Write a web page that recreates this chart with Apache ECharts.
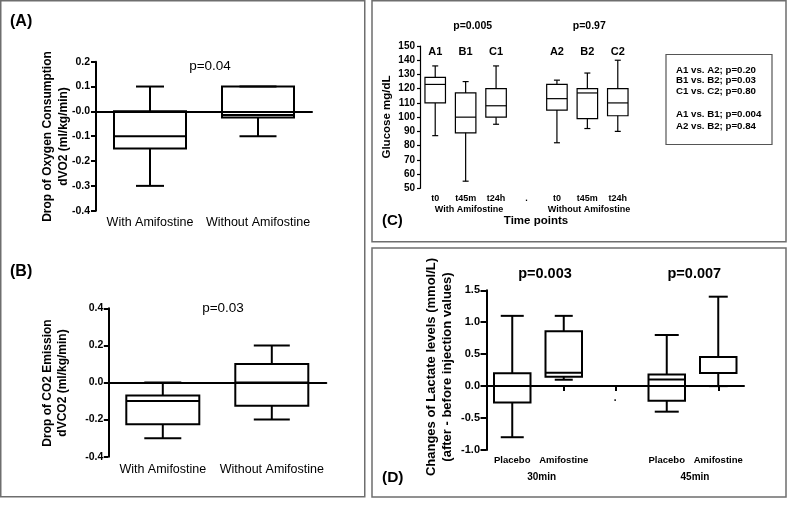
<!DOCTYPE html>
<html>
<head>
<meta charset="utf-8">
<script src="https://cdn.jsdelivr.net/npm/echarts@6/dist/echarts.min.js"></script>
<style>
html,body{margin:0;padding:0;background:#fff;}
#c{width:787px;height:511px;}
</style>
</head>
<body>
<div id="c"></div>
<script>
// ---------- DATA ----------
// Box values are [min, Q1, median, Q3, max]
// Panel A: drop of oxygen consumption
const catsAB = ['With Amifostine', 'Without Amifostine'];
const vo2WithAmifostine = [-0.3, -0.15, -0.1, 0.0, 0.1];
const vo2WithoutAmifostine = [-0.1, -0.025, -0.015, 0.1, 0.1];
const ticksA = ['-0.4', '-0.3', '-0.2', '-0.1', '-0.0', '0.1', '0.2'];

// Panel B: drop of CO2 emission
const vco2WithAmifostine = [-0.3, -0.225, -0.1, -0.07, 0.0];
const vco2WithoutAmifostine = [-0.2, -0.125, 0.0, 0.1, 0.2];
const ticksB = ['-0.4', '-0.2', '0.0', '0.2', '0.4'];

// Panel C: glucose
const catsC = ['t0', 't45m', 't24h', '.', 't0', 't45m', 't24h'];
const boxLabelsC = ['A1', 'B1', 'C1', '', 'A2', 'B2', 'C2'];
const glucoseA1 = [87, 110, 123, 128, 136];
const glucoseB1 = [55, 89, 100, 117, 125];
const glucoseC1 = [95, 100, 108, 120, 136];
const glucoseA2 = [82, 105, 113, 123, 126];
const glucoseB2 = [92, 99, 117, 120, 131];
const glucoseC2 = [90, 101, 110, 120, 140];
const ticksC = ['50', '60', '70', '80', '90', '100', '110', '120', '130', '140', '150'];
const statsLines = ['A1 vs. A2; p=0.20', 'B1 vs. B2; p=0.03', 'C1 vs. C2; p=0.80', '', 'A1 vs. B1; p=0.004', 'A2 vs. B2; p=0.84'];

// Panel D: lactate changes
const catsD = ['Placebo', 'Amifostine', '.', 'Placebo', 'Amifostine'];
const lactatePlacebo30 = [-0.8, -0.255, 0.0, 0.2, 1.1];
const lactateAmifostine30 = [0.1, 0.147, 0.21, 0.857, 1.1];
const lactatePlacebo45 = [-0.4, -0.23, 0.105, 0.18, 0.8];
const lactateAmifostine45 = [0.0, 0.204, 0.204, 0.455, 1.4];
const ticksD = ['-1.0', '-0.5', '0.0', '0.5', '1.0', '1.5'];

// ---------- BUILD ----------
const FONT = '"Liberation Sans", Arial, sans-serif';
const chart = echarts.init(document.getElementById('c'), null, {renderer: 'canvas', width: 787, height: 511});

function row(idx, arr) { return [idx].concat(arr); }
const dataA = [row(0, vo2WithAmifostine), row(1, vo2WithoutAmifostine)];
const dataB = [row(0, vco2WithAmifostine), row(1, vco2WithoutAmifostine)];
const dataC = [row(0, glucoseA1), row(1, glucoseB1), row(2, glucoseC1), row(4, glucoseA2), row(5, glucoseB2), row(6, glucoseC2)];
const dataD = [row(0, lactatePlacebo30), row(1, lactateAmifostine30), row(3, lactatePlacebo45), row(4, lactateAmifostine45)];

function makeRender(st) {
  return function (params, api) {
    const x = api.value(0);
    const lo = api.coord([x, api.value(1)]);
    const q1 = api.coord([x, api.value(2)]);
    const md = api.coord([x, api.value(3)]);
    const q3 = api.coord([x, api.value(4)]);
    const hi = api.coord([x, api.value(5)]);
    const cx = lo[0];
    const bw = st.boxWidth;
    const cw = st.capWidths[params.dataIndex % st.capWidths.length];
    const ls = {stroke: '#000', lineWidth: st.lw, fill: 'none'};
    const L = (x1, y1, x2, y2) => ({type: 'line', shape: {x1, y1, x2, y2}, style: ls});
    return {
      type: 'group',
      children: [
        L(cx, lo[1], cx, q1[1]),
        L(cx, q3[1], cx, hi[1]),
        L(cx - cw / 2, lo[1], cx + cw / 2, lo[1]),
        L(cx - cw / 2, hi[1], cx + cw / 2, hi[1]),
        {type: 'rect', shape: {x: cx - bw / 2, y: q3[1], width: bw, height: q1[1] - q3[1]}, style: {stroke: '#000', lineWidth: st.lw, fill: 'none'}},
        L(cx - bw / 2, md[1], cx + bw / 2, md[1])
      ]
    };
  };
}

// separator mark drawn just under the zero line of panel D, at the '.' category
function renderSeparator(params, api) {
  const p = api.coord([api.value(0), api.value(1)]);
  return {type: 'text', x: p[0], y: p[1] + 12,
          style: {text: '.', fill: '#000', font: 'bold 10px ' + FONT, align: 'center', verticalAlign: 'middle',
                  textAlign: 'center', textVerticalAlign: 'middle'}};
}

function tickFmt(ticks, min, interval) {
  return v => ticks[Math.round((v - min) / interval)] || '';
}

function yAx(grid, min, max, interval, ticks, fs, lw, tickLen, margin) {
  return {
    type: 'value', gridIndex: grid, min, max, interval,
    splitLine: {show: false},
    axisLine: {show: true, lineStyle: {color: '#000', width: lw}},
    axisTick: {show: true, length: tickLen, lineStyle: {color: '#000', width: lw}},
    axisLabel: {color: '#000', fontFamily: FONT, fontWeight: 'bold', fontSize: fs, margin, formatter: tickFmt(ticks, min, interval)}
  };
}

const grids = [
  {left: 96, top: 61.7, width: 216, height: 149},
  {left: 108.3, top: 308.3, width: 218, height: 148.4},
  {left: 420, top: 46, width: 213, height: 142.3},
  {left: 486.5, top: 290.3, width: 257.5, height: 159.7}
];

const noLine = {show: false, onZero: false};
const xAxes = [
  // A zero line
  {type: 'category', gridIndex: 0, data: catsAB, position: 'bottom',
   axisLine: {show: true, onZero: true, lineStyle: {color: '#000', width: 2}}, axisTick: {show: false}, axisLabel: {show: false}},
  // A labels
  {type: 'category', gridIndex: 0, data: catsAB, position: 'bottom', axisLine: noLine, axisTick: {show: false},
   axisLabel: {color: '#000', fontFamily: FONT, fontSize: 12.5, margin: 5.5, interval: 0}},
  // B zero line
  {type: 'category', gridIndex: 1, data: catsAB, position: 'bottom',
   axisLine: {show: true, onZero: true, lineStyle: {color: '#000', width: 2}}, axisTick: {show: false}, axisLabel: {show: false}},
  // B labels
  {type: 'category', gridIndex: 1, data: catsAB, position: 'bottom', axisLine: noLine, axisTick: {show: false},
   axisLabel: {color: '#000', fontFamily: FONT, fontSize: 12.5, margin: 6.5, interval: 0}},
  // C bottom labels
  {type: 'category', gridIndex: 2, data: catsC, position: 'bottom', axisLine: noLine, axisTick: {show: false},
   axisLabel: {color: '#000', fontFamily: FONT, fontWeight: 'bold', fontSize: 9, margin: 6, interval: 0}},
  // C top box labels
  {type: 'category', gridIndex: 2, data: boxLabelsC, position: 'top', axisLine: noLine, axisTick: {show: false},
   axisLabel: {inside: true, color: '#000', fontFamily: FONT, fontWeight: 'bold', fontSize: 11, margin: 0.5, interval: 0}},
  // D zero line
  {type: 'category', gridIndex: 3, data: catsD, position: 'bottom',
   axisLine: {show: true, onZero: true, lineStyle: {color: '#000', width: 2}},
   axisTick: {show: true, alignWithLabel: true, length: 5, lineStyle: {color: '#000', width: 2},
              interval: (i, v) => v !== 'Placebo'},
   axisLabel: {show: false}},
  // D labels
  {type: 'category', gridIndex: 3, data: catsD, position: 'bottom', axisLine: noLine, axisTick: {show: false},
   axisLabel: {color: '#000', fontFamily: FONT, fontWeight: 'bold', fontSize: 9.5, margin: 5, interval: 0,
               formatter: v => (v === '.' ? '' : v)}}
];

const yAxes = [
  yAx(0, -0.4, 0.2, 0.1, ticksA, 10.5, 2, 5, 6),
  yAx(1, -0.4, 0.4, 0.2, ticksB, 10.5, 2, 4.5, 5),
  yAx(2, 50, 150, 10, ticksC, 10, 1.2, 3, 5),
  yAx(3, -1.0, 1.5, 0.5, ticksD, 11, 2, 6, 6.5)
];

const enc = {x: 0, y: [1, 2, 3, 4, 5]};
const series = [
  {type: 'custom', xAxisIndex: 0, yAxisIndex: 0, data: dataA, encode: enc, silent: true,
   renderItem: makeRender({boxWidth: 72, capWidths: [28, 37], lw: 2})},
  {type: 'custom', xAxisIndex: 2, yAxisIndex: 1, data: dataB, encode: enc, silent: true,
   renderItem: makeRender({boxWidth: 73, capWidths: [37, 36], lw: 2})},
  {type: 'custom', xAxisIndex: 4, yAxisIndex: 2, data: dataC, encode: enc, silent: true,
   renderItem: makeRender({boxWidth: 20.5, capWidths: [6], lw: 1.2})},
  {type: 'custom', xAxisIndex: 6, yAxisIndex: 3, data: dataD, encode: enc, silent: true,
   renderItem: makeRender({boxWidth: 36.5, capWidths: [23, 18, 24, 19], lw: 2})},
  {type: 'custom', xAxisIndex: 6, yAxisIndex: 3, data: [[catsD.indexOf('.'), 0]], encode: {x: 0, y: 1}, silent: true,
   renderItem: renderSeparator}
];

function txt(text, x, y, size, bold, align, extra) {
  return Object.assign({
    type: 'text', x, y, silent: true,
    style: {text, fill: '#000', font: (bold ? 'bold ' : '') + size + 'px ' + FONT,
            textAlign: align || 'center', align: align || 'center',
            textVerticalAlign: 'middle', verticalAlign: 'middle'}
  }, extra || {});
}
function vtxt(text, x, y, size, lh) {
  return {
    type: 'text', x, y, rotation: Math.PI / 2, silent: true,
    style: {text, fill: '#000', font: 'bold ' + size + 'px ' + FONT, lineHeight: lh,
            textAlign: 'center', align: 'center', textVerticalAlign: 'middle', verticalAlign: 'middle'}
  };
}
const border = {stroke: '#6e6e6e', lineWidth: 1.5, fill: 'none'};
const graphic = [
  {type: 'rect', silent: true, shape: {x: 0.75, y: 0.75, width: 364, height: 496}, style: border},
  {type: 'rect', silent: true, shape: {x: 372, y: 0.75, width: 414, height: 241}, style: border},
  {type: 'rect', silent: true, shape: {x: 372, y: 248, width: 414, height: 249}, style: border},
  {type: 'rect', silent: true, shape: {x: 666, y: 54.5, width: 106, height: 90}, style: {stroke: '#555', lineWidth: 1.2, fill: 'none'}},
  // Panel A
  txt('(A)', 10, 22, 16, true, 'left'),
  txt('p=0.04', 210, 66, 13.5, false),
  vtxt('Drop of Oxygen Consumption\ndVO2 (ml/kg/min)', 56, 136.5, 12, 16),
  // Panel B
  txt('(B)', 10, 272, 16, true, 'left'),
  txt('p=0.03', 223, 308, 13.5, false),
  vtxt('Drop of CO2 Emission\ndVCO2 (ml/kg/min)', 55, 383, 12, 15),
  // Panel C
  txt('p=0.005', 472.7, 26, 10.5, true),
  txt('p=0.97', 589.3, 26, 10.5, true),
  txt('With Amifostine', 469, 210, 9, true),
  txt('Without Amifostine', 589, 210, 9, true),
  txt('Time points', 536, 221, 11.5, true),
  txt('(C)', 382, 221, 15, true, 'left'),
  vtxt('Glucose mg/dL', 387, 117, 11.5, 14),
  // Panel D
  txt('p=0.003', 545, 274.3, 14.5, true),
  txt('p=0.007', 694.3, 274.3, 14.5, true),
  txt('30min', 541.7, 477, 10, true),
  txt('45min', 695, 477, 10, true),
  txt('(D)', 382, 478, 15.5, true, 'left'),
  vtxt('Changes of Lactate levels (mmol/L)\n(after - before injection values)', 439.5, 367, 13, 15.6)
];
const statsY = [70, 80.7, 91, 102.8, 114.7, 126.7];
statsLines.forEach((s, i) => { if (s) graphic.push(txt(s, 676, statsY[i], 9.7, true, 'left')); });

chart.setOption({
  backgroundColor: '#fff',
  animation: false,
  textStyle: {fontFamily: FONT},
  grid: grids,
  xAxis: xAxes,
  yAxis: yAxes,
  series,
  graphic
});
</script>
</body>
</html>
